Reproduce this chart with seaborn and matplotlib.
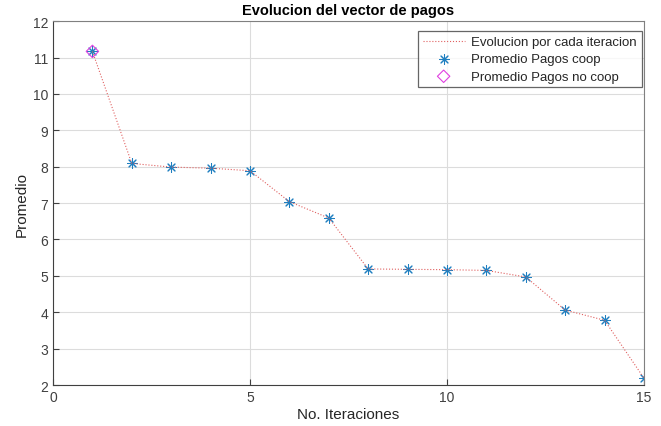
import matplotlib
matplotlib.use("Agg")
import matplotlib.pyplot as plt
import seaborn as sns
import pandas as pd

iteraciones = list(range(1, 16))
promedio = [11.17, 8.09, 7.99, 7.96, 7.89, 7.04, 6.59, 5.19, 5.18, 5.17, 5.15, 4.97, 4.06, 3.78, 2.19]
nocoop_x = [1]
nocoop_y = [11.17]
x_ticks = [0, 5, 10, 15]
y_ticks = list(range(2, 13))

sns.set_theme(style="white")
plt.rcParams['font.family'] = ['Liberation Sans', 'DejaVu Sans']

df = pd.DataFrame({"iter": iteraciones, "prom": promedio})
df_nc = pd.DataFrame({"iter": nocoop_x, "prom": nocoop_y})

fig = plt.figure(figsize=(6.61, 4.27), dpi=100)
ax = fig.add_axes([0.0802, 0.096, 0.894, 0.852])

sns.lineplot(data=df, x="iter", y="prom", ax=ax, color="#e06060", linestyle=":",
             linewidth=0.8, label="Evolucion por cada iteracion")
sns.scatterplot(data=df, x="iter", y="prom", ax=ax, marker=(8, 2, 0), s=50,
                color="#1f7fc0", linewidth=0.75, edgecolor="#1f7fc0",
                label="Promedio Pagos coop")
sns.scatterplot(data=df_nc, x="iter", y="prom", ax=ax, marker="D", s=40,
                facecolor="none", edgecolor="#e040e0", linewidth=0.8,
                label="Promedio Pagos no coop")

ax.set_xlim(0, 15)
ax.set_ylim(2, 12)
ax.set_xticks(x_ticks)
ax.set_yticks(y_ticks)
ax.grid(True, color="#dcdcdc", linewidth=0.8)
ax.set_axisbelow(True)
ax.tick_params(direction="in", length=4, labelsize=10, colors="#404040",
               bottom=True, left=True, width=0.8)
for s in ax.spines.values():
    s.set_color("#808080")
    s.set_linewidth(0.8)
ax.spines["bottom"].set_color("#404040")
ax.spines["left"].set_color("#404040")

ax.set_xlabel("No. Iteraciones", fontsize=11, color="#262626", labelpad=2)
ax.set_ylabel("Promedio", fontsize=11, color="#262626", labelpad=3)
ax.set_title("Evolucion del vector de pagos", fontsize=10.5, fontweight="bold",
             color="black", pad=5)

leg = ax.legend(loc="upper right", bbox_to_anchor=(0.996, 0.972), fontsize=9.5,
                frameon=True, fancybox=False, edgecolor="#404040",
                borderpad=0.35, labelspacing=0.38, handlelength=3.2,
                handletextpad=0.5, borderaxespad=0.0)
leg.get_frame().set_linewidth(0.9)

fig.savefig("out.png", dpi=100)
